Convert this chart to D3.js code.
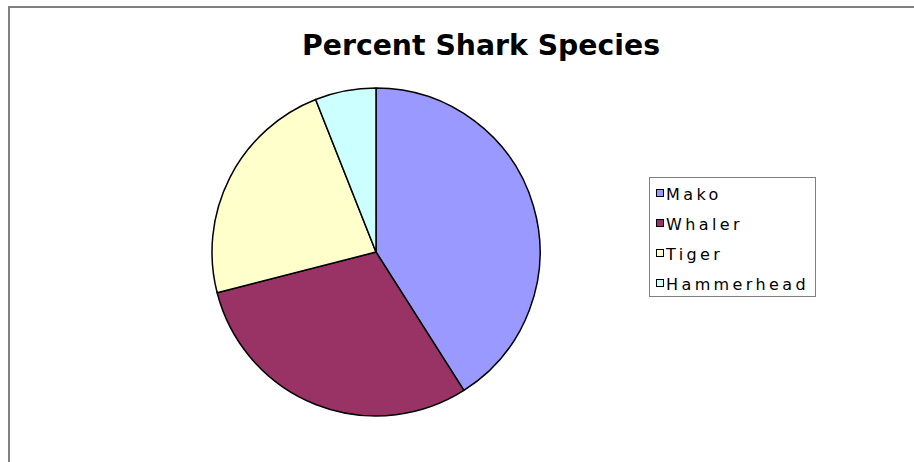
<!DOCTYPE html>
<html>
<head>
<meta charset="utf-8">
<script src="https://cdn.jsdelivr.net/npm/d3@7"></script>
<style>
  html, body { margin: 0; padding: 0; background: #fff; }
  svg { display: block; }
</style>
</head>
<body>
<svg id="chart" width="914" height="462"></svg>
<script>
// Shark species share (percent)
const species = ["Mako", "Whaler", "Tiger", "Hammerhead"];
const percents = [41, 30, 23, 6];
const sliceColors = ["#9999FF", "#993366", "#FFFFCC", "#CCFFFF"];
const chartTitle = "Percent Shark Species";

const svg = d3.select("#chart");
const W = 914, H = 462;

// outer frame (top and left edges of the chart area)
svg.append("rect").attr("x", 0).attr("y", 0).attr("width", W).attr("height", H).attr("fill", "#fff");
svg.append("line").attr("x1", 8).attr("x2", W).attr("y1", 7).attr("y2", 7)
  .attr("stroke", "#808080").attr("stroke-width", 2);
svg.append("line").attr("x1", 9).attr("x2", 9).attr("y1", 6).attr("y2", H)
  .attr("stroke", "#808080").attr("stroke-width", 2);

// title
svg.append("text")
  .attr("x", 481).attr("y", 55)
  .attr("text-anchor", "middle")
  .attr("font-family", "'DejaVu Sans', Verdana, sans-serif")
  .attr("font-weight", "bold")
  .attr("font-size", 28.3)
  .attr("fill", "#000")
  .text(chartTitle);

// pie
const data = species.map((s, i) => ({ name: s, value: percents[i], color: sliceColors[i] }));
const pie = d3.pie().value(d => d.value).sort(null);
const arc = d3.arc().innerRadius(0).outerRadius(164);
const color = d3.scaleOrdinal().domain(species).range(sliceColors);

const g = svg.append("g").attr("transform", "translate(376,252)");
g.selectAll("path")
  .data(pie(data))
  .join("path")
  .attr("d", arc)
  .attr("fill", d => color(d.data.name))
  .attr("stroke", "#000")
  .attr("stroke-width", 1.5)
  .attr("stroke-linejoin", "round");

// legend
const lg = svg.append("g");
lg.append("rect")
  .attr("x", 649.5).attr("y", 177.5).attr("width", 166).attr("height", 119)
  .attr("fill", "#fff").attr("stroke", "#808080").attr("stroke-width", 1);

const rowY = d3.scalePoint().domain(species).range([194, 284]);
const items = lg.selectAll("g.item").data(data).join("g").attr("class", "item")
  .attr("transform", d => `translate(0,${rowY(d.name)})`);
items.append("rect")
  .attr("x", 656.5).attr("y", -4.5).attr("width", 7).attr("height", 7)
  .attr("fill", d => color(d.name))
  .attr("stroke", "#000").attr("stroke-width", 1);
items.append("text")
  .attr("x", 666).attr("y", 0)
  .attr("dy", "0.36em")
  .attr("font-family", "'DejaVu Sans', Verdana, sans-serif")
  .attr("font-size", 16)
  .attr("letter-spacing", "3.4px")
  .attr("fill", "#000")
  .text(d => d.name);
</script>
</body>
</html>
